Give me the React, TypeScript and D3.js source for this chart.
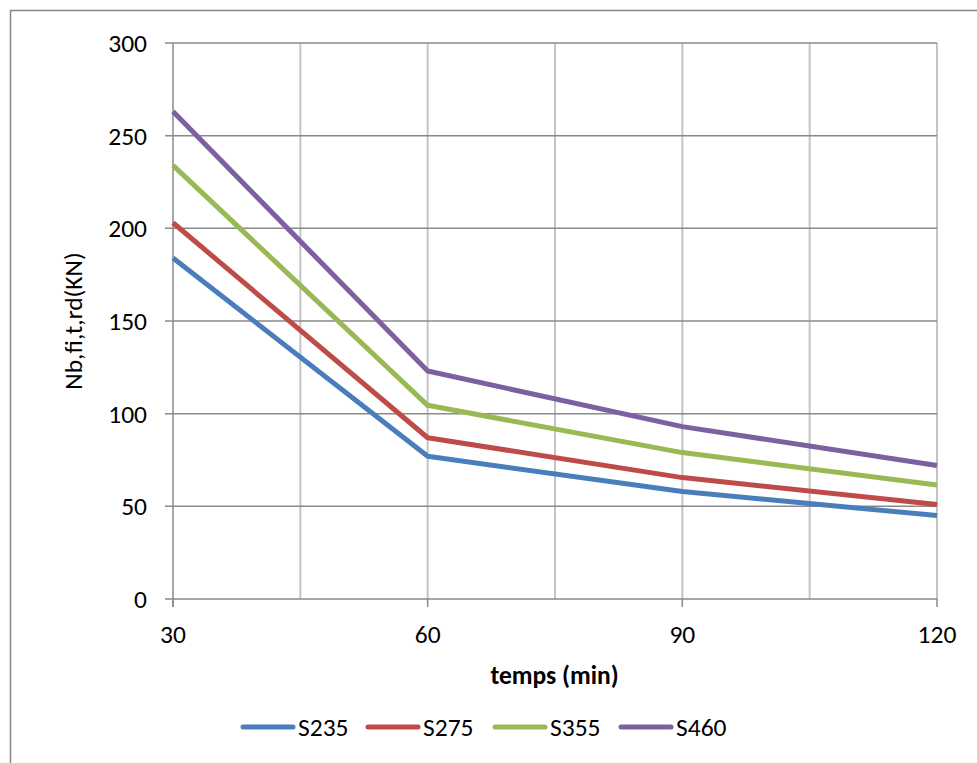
import React from "react";
import * as d3 from "d3";

const xValues = [30, 60, 90, 120];
const seriesNames = ["S235", "S275", "S355", "S460"];
const s235 = [184, 77, 58, 45];
const s275 = [203, 87, 65.5, 51];
const s355 = [234, 104.5, 79, 61.5];
const s460 = [263, 123, 93, 72];
const seriesValues = [s235, s275, s355, s460];
const colors = ["#4A7EBB", "#BE4B48", "#98B954", "#7D60A0"];
const yTicks = [0, 50, 100, 150, 200, 250, 300];
const xTickLabels = [30, 60, 90, 120];
const xGrid = [45, 60, 75, 90, 105, 120];

const W = 977, H = 763;
const FONT = "Carlito, Calibri, Lato, 'Open Sans', sans-serif";
const FS = 25.5;

export default function App() {
  const x = d3.scaleLinear().domain([30, 120]).range([173, 937]);
  const y = d3.scaleLinear().domain([0, 300]).range([599, 43]);
  const line = d3.line<number>().x((_, i) => x(xValues[i])).y((d) => y(d));
  const legendX = [243, 368, 495, 621];
  return (
    <div style={{ position: "absolute", left: 0, top: 0 }}>
      <svg width={W} height={H} style={{ display: "block", background: "#fff" }}>
        <rect x={10.5} y={10.5} width={990} height={780} fill="#fff" stroke="#868686" strokeWidth={1.5} />
        {xGrid.map((t) => (
          <line key={"vx" + t} x1={x(t)} x2={x(t)} y1={43} y2={599} stroke="#c4c4c4" strokeWidth={2} />
        ))}
        {yTicks.map((t) => (
          <line key={"hy" + t} x1={165} x2={937} y1={y(t)} y2={y(t)} stroke="#8a8a8a" strokeWidth={1.5} />
        ))}
        <line x1={x(30)} x2={x(30)} y1={43} y2={607} stroke="#8a8a8a" strokeWidth={1.5} />
        {xTickLabels.map((t) => (
          <line key={"xt" + t} x1={x(t)} x2={x(t)} y1={599} y2={607} stroke="#8a8a8a" strokeWidth={1.5} />
        ))}
        {yTicks.map((t) => (
          <text key={"yl" + t} x={147} y={y(t)} dy="0.35em" textAnchor="end" fontFamily={FONT} fontSize={FS} fill="#000">{t}</text>
        ))}
        {xTickLabels.map((t) => (
          <text key={"xl" + t} x={x(t)} y={634} dy="0.35em" textAnchor="middle" fontFamily={FONT} fontSize={FS} fill="#000">{t}</text>
        ))}
        <text x={554.5} y={675} dy="0.35em" textAnchor="middle" fontFamily={FONT} fontSize={FS} fontWeight="bold" fill="#000">temps (min)</text>
        <text transform={`translate(73,321) rotate(-90)`} textAnchor="middle" dy="0.35em" fontFamily={FONT} fontSize={FS} fill="#000">Nb,fi,t,rd(KN)</text>
        {seriesValues.map((vals, i) => (
          <path key={seriesNames[i]} d={line(vals) || ""} fill="none" stroke={colors[i]} strokeWidth={5} strokeLinejoin="round" strokeLinecap="butt" />
        ))}
        {seriesNames.map((n, i) => (
          <g key={"lg" + n}>
            <line x1={legendX[i]} x2={legendX[i] + 50} y1={727} y2={727} stroke={colors[i]} strokeWidth={5} strokeLinecap="round" />
            <text x={legendX[i] + 55} y={727} dy="0.35em" fontFamily={FONT} fontSize={FS} fill="#000">{n}</text>
          </g>
        ))}
      </svg>
    </div>
  );
}
